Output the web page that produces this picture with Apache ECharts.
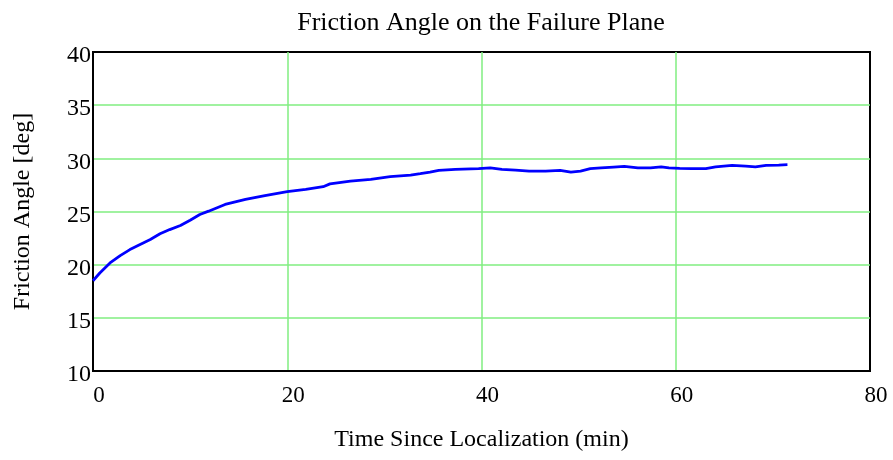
<!DOCTYPE html>
<html>
<head>
<meta charset="utf-8">
<script src="https://cdn.jsdelivr.net/npm/echarts@6/dist/echarts.min.js"></script>
<style>
  html, body { margin: 0; padding: 0; background: #fff; }
  #chart { width: 893px; height: 460px; }
</style>
</head>
<body>
<div id="chart"></div>
<script>
// Time since localization (min)
const timeMin = [0, 0.7, 1.75, 2.8, 3.8, 4.85, 5.9, 6.9, 7.9, 9.0, 10.0, 11.0, 11.9, 13.6, 15.7, 17.7,
  20.0, 21.9, 23.7, 24.4, 26.5, 28.6, 30.6, 32.7, 33.7, 34.7, 35.6, 37.3, 39.7, 40.9, 42.1, 43.5,
  44.9, 46.6, 48.1, 49.2, 50.2, 51.2, 52.3, 53.6, 54.7, 56.1, 57.4, 58.5, 59.3, 60.4, 61.7, 63.1,
  64.1, 65.8, 67.2, 68.2, 69.3, 70.6, 71.5];
// Friction angle on the failure plane (deg)
const frictionDeg = [18.49, 19.22, 20.16, 20.85, 21.42, 21.89, 22.36, 22.9, 23.3, 23.68, 24.18, 24.72, 25.03, 25.66, 26.13, 26.5,
  26.86, 27.08, 27.33, 27.6, 27.86, 28.02, 28.27, 28.42, 28.56, 28.71, 28.87, 28.96, 29.03, 29.1, 28.96, 28.9,
  28.8, 28.8, 28.87, 28.7, 28.8, 29.03, 29.1, 29.18, 29.25, 29.1, 29.1, 29.2, 29.1, 29.06, 29.03, 29.03,
  29.2, 29.34, 29.27, 29.2, 29.34, 29.37, 29.4];

const titleText = 'Friction Angle on the Failure Plane';
const xName = 'Time Since Localization (min)';
const yName = 'Friction Angle [deg]';

const serif = '"Liberation Serif", "Times New Roman", serif';
const gridGreen = '#80ee80';
const chart = echarts.init(document.getElementById('chart'), null, { renderer: 'canvas' });

// Interior grid lines only; the black plot frame covers the outer edges
const greenSplit = { show: true, showMinLine: false, showMaxLine: false, lineStyle: { color: gridGreen, width: 1.5 } };

chart.setOption({
  animation: false,
  backgroundColor: '#ffffff',
  title: {
    text: titleText,
    left: 476,
    textAlign: 'center',
    top: 5,
    textStyle: { fontFamily: serif, fontSize: 26, fontWeight: 'normal', color: '#000' }
  },
  grid: {
    left: 93, right: 23, top: 52, bottom: 89,
    outerBoundsMode: 'none',
    containLabel: false,
    show: true,
    borderColor: '#000',
    borderWidth: 2,
    backgroundColor: 'transparent'
  },
  xAxis: {
    type: 'value',
    min: 0, max: 80, interval: 20,
    name: xName,
    nameLocation: 'middle',
    nameGap: 57,
    nameTextStyle: { fontFamily: serif, fontSize: 24, color: '#000' },
    axisLine: { show: true, onZero: false, lineStyle: { color: '#000', width: 2 } },
    axisTick: { show: false },
    axisLabel: { fontFamily: serif, fontSize: 23, color: '#000', margin: 13, padding: [0, 0, 0, 12] },
    splitLine: greenSplit
  },
  yAxis: {
    type: 'value',
    min: 10, max: 40, interval: 5,
    name: yName,
    nameLocation: 'middle',
    nameGap: 58,
    nameTextStyle: { fontFamily: serif, fontSize: 24, color: '#000' },
    axisLine: { show: true, onZero: false, lineStyle: { color: '#000', width: 2 } },
    axisTick: { show: false },
    axisLabel: { fontFamily: serif, fontSize: 24, color: '#000', margin: 2, verticalAlign: 'top', lineHeight: 8 },
    splitLine: greenSplit
  },
  series: [{
    type: 'line',
    data: timeMin.map((t, i) => [t, frictionDeg[i]]),
    showSymbol: false,
    lineStyle: { color: '#0000ff', width: 2.8 },
    itemStyle: { color: '#0000ff' }
  }]
});
</script>
</body>
</html>
